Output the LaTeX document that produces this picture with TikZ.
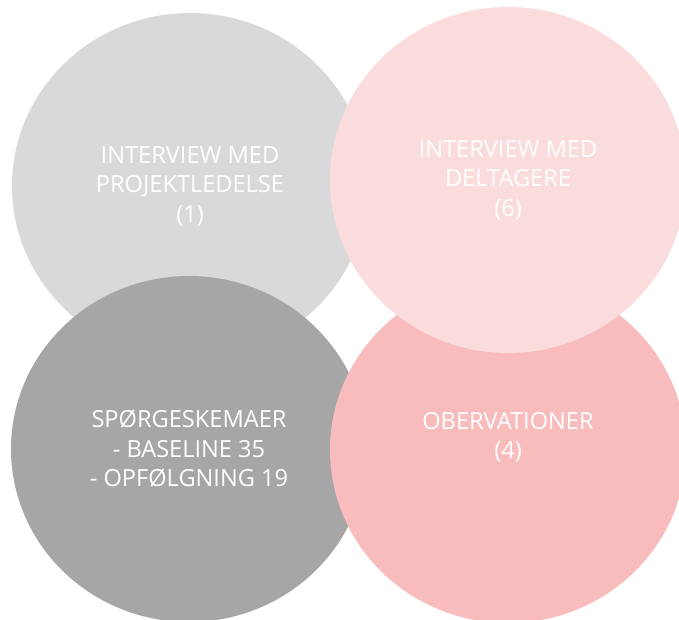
\documentclass[tikz,border=0pt]{standalone}
\usepackage{fontspec}
\setmainfont{Open Sans}
\usetikzlibrary{shapes.geometric}
\definecolor{lightgrey}{HTML}{D9D9D9}
\definecolor{darkgrey}{HTML}{A6A6A6}
\definecolor{lightpink}{HTML}{FADCDD}
\definecolor{darkpink}{HTML}{F8BCBD}
\begin{document}
\begin{tikzpicture}[x=1pt, y=-1pt, every node/.style={shape=ellipse, minimum width=356pt, minimum height=346pt, inner sep=0pt, text=white, align=center, font=\fontsize{23.6}{29.5}\selectfont}]
  \useasboundingbox (0,0) rectangle (679,620);
  \node[fill=lightgrey] (interviewled) at (190,186)
    {INTERVIEW MED\\PROJEKTLEDELSE\\(1)};
  \node[fill=darkgrey] (survey) at (189,449)
    {SPØRGESKEMAER\\- BASELINE 35\\- OPFØLGNING 19};
  \node[fill=darkpink] (observ) at (508,450)
    {OBERVATIONER\\(4)\\\mbox{}};
  \node[fill=lightpink] (interviewdel) at (508,180)
    {INTERVIEW MED\\DELTAGERE\\(6)};
\end{tikzpicture}
\end{document}
